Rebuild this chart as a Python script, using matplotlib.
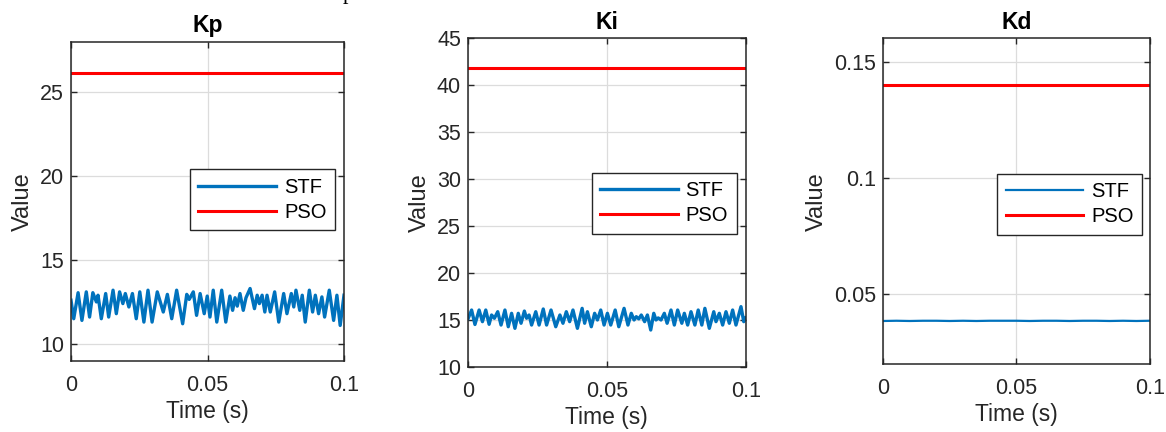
import matplotlib
matplotlib.use("Agg")
import matplotlib.pyplot as plt

plt.rcParams['font.family'] = ['Liberation Sans', 'DejaVu Sans']

# ---------------- data ----------------
titles = ["Kp", "Ki", "Kd"]
series_names = ["STF", "PSO"]
xticks = [0, 0.05, 0.1]
xtick_labels = ["0", "0.05", "0.1"]

kp_t = [0.0000, 0.0010, 0.0026, 0.0040, 0.0056, 0.0068, 0.0080, 0.0093, 0.0099, 0.0111,
        0.0127, 0.0138, 0.0154, 0.0166, 0.0178, 0.0190, 0.0199, 0.0212, 0.0225, 0.0239,
        0.0252, 0.0267, 0.0282, 0.0297, 0.0316, 0.0338, 0.0353, 0.0369, 0.0387, 0.0409,
        0.0424, 0.0433, 0.0448, 0.0460, 0.0473, 0.0488, 0.0499, 0.0509, 0.0521, 0.0534,
        0.0552, 0.0567, 0.0582, 0.0592, 0.0601, 0.0609, 0.0619, 0.0631, 0.0641, 0.0656,
        0.0672, 0.0682, 0.0690, 0.0700, 0.0710, 0.0718, 0.0730, 0.0746, 0.0761, 0.0779,
        0.0791, 0.0807, 0.0816, 0.0824, 0.0838, 0.0847, 0.0858, 0.0873, 0.0885, 0.0895,
        0.0907, 0.0919, 0.0929, 0.0946, 0.0962, 0.0974, 0.0986, 0.1000]
kp_stf = [12.6, 11.5, 13.05, 11.4, 13.1, 11.6, 13.05, 12.5, 12.9, 11.5,
          13.0, 11.6, 13.2, 11.8, 13.1, 12.4, 13.0, 12.2, 13.0, 11.5,
          13.1, 11.3, 13.2, 11.3, 13.1, 11.9, 12.95, 11.5, 13.2, 11.2,
          12.95, 12.65, 13.1, 11.7, 13.0, 11.8, 12.85, 11.6, 13.2, 11.3,
          13.2, 11.3, 12.85, 12.0, 12.75, 12.25, 13.0, 12.0, 12.75, 13.3,
          12.1, 12.9, 12.4, 12.9, 11.9, 12.9, 11.9, 13.1, 11.3, 13.0,
          11.8, 13.0, 12.2, 13.2, 12.0, 12.9, 11.3, 13.2, 11.9, 12.9,
          11.8, 12.8, 11.6, 13.2, 11.4, 12.9, 11.1, 12.9]

ki_t = [0.0000, 0.0013, 0.0025, 0.0040, 0.0052, 0.0064, 0.0076, 0.0085, 0.0095, 0.0107,
        0.0119, 0.0133, 0.0145, 0.0157, 0.0169, 0.0181, 0.0191, 0.0203, 0.0211, 0.0220,
        0.0229, 0.0244, 0.0256, 0.0271, 0.0283, 0.0299, 0.0316, 0.0331, 0.0342, 0.0354,
        0.0366, 0.0378, 0.0394, 0.0411, 0.0420, 0.0430, 0.0444, 0.0456, 0.0466, 0.0478,
        0.0490, 0.0502, 0.0514, 0.0530, 0.0543, 0.0562, 0.0576, 0.0588, 0.0598, 0.0606,
        0.0615, 0.0624, 0.0636, 0.0646, 0.0658, 0.0669, 0.0677, 0.0685, 0.0695, 0.0707,
        0.0717, 0.0731, 0.0743, 0.0755, 0.0770, 0.0779, 0.0791, 0.0803, 0.0817, 0.0829,
        0.0842, 0.0853, 0.0869, 0.0885, 0.0893, 0.0905, 0.0917, 0.0929, 0.0941, 0.0953,
        0.0965, 0.0983, 0.0993, 0.1000]
ki_stf = [15.1, 16.04, 14.5, 16.04, 14.8, 16.04, 14.52, 15.51, 15.16, 15.86,
          14.44, 16.04, 14.26, 15.69, 14.09, 15.69, 14.63, 15.93, 15.16, 15.51,
          14.44, 15.86, 14.44, 16.15, 14.44, 16.04, 14.26, 15.51, 14.63, 15.86,
          14.80, 16.04, 14.09, 16.22, 14.63, 15.86, 14.26, 15.69, 14.98, 16.04,
          14.44, 15.69, 14.44, 16.04, 14.26, 16.22, 14.44, 15.69, 14.98, 15.33,
          15.10, 15.51, 14.80, 15.51, 13.91, 15.69, 14.98, 15.20, 14.98, 15.69,
          14.63, 16.04, 14.44, 16.04, 14.63, 15.69, 14.44, 15.86, 14.44, 16.04,
          14.44, 16.22, 14.09, 15.86, 14.80, 15.69, 14.44, 15.86, 14.63, 16.04,
          14.44, 16.40, 14.80, 15.20]

kd_t = [0.000, 0.005, 0.010, 0.015, 0.020, 0.025, 0.030, 0.035, 0.040, 0.045, 0.050,
        0.055, 0.060, 0.065, 0.070, 0.075, 0.080, 0.085, 0.090, 0.095, 0.100]
kd_stf = [0.0386, 0.0387, 0.0386, 0.0387, 0.0387, 0.0386, 0.0387, 0.0386, 0.0387, 0.0387,
          0.0387, 0.0386, 0.0387, 0.0387, 0.0386, 0.0387, 0.0387, 0.0386, 0.0387, 0.0386, 0.0387]

pso_values = [26.13, 41.8, 0.140]
ylims = [(9, 28), (10, 45), (0.02, 0.16)]
yticks = [[10, 15, 20, 25], [10, 15, 20, 25, 30, 35, 40, 45], [0.05, 0.1, 0.15]]
ytick_labels = [["10", "15", "20", "25"],
                ["10", "15", "20", "25", "30", "35", "40", "45"],
                ["0.05", "0.1", "0.15"]]

stf_t = [kp_t, ki_t, kd_t]
stf_v = [kp_stf, ki_stf, kd_stf]
stf_lw = [2.4, 2.4, 1.6]

# ---------------- layout ----------------
W, H = 1166, 432
fig = plt.figure(figsize=(W / 100, H / 100), dpi=100)

axes_px = [(71, 41.7, 344, 360.7), (468, 38.3, 745.7, 366.7), (883, 38.3, 1149.7, 364.3)]
legend_anchor = [(0.436, 0.600), (0.445, 0.591), (0.4286, 0.585)]

blue = "#0072BD"
red = "#FF0000"
dark = "#262626"

for i in range(3):
    l, t, r, b = axes_px[i]
    ax = fig.add_axes([l / W, 1 - b / H, (r - l) / W, (b - t) / H])
    ax.plot(stf_t[i], stf_v[i], color=blue, lw=stf_lw[i], label=series_names[0],
            solid_joinstyle="round")
    ax.axhline(pso_values[i], color=red, lw=2.2, label=series_names[1])
    ax.set_xlim(0, 0.1)
    ax.set_ylim(*ylims[i])
    ax.set_xticks(xticks)
    ax.set_xticklabels(xtick_labels)
    ax.set_yticks(yticks[i])
    ax.set_yticklabels(ytick_labels[i])
    ax.grid(True, color="#dcdcdc", lw=0.9)
    ax.set_axisbelow(True)
    for s in ax.spines.values():
        s.set_color(dark)
        s.set_linewidth(1.1)
    ax.tick_params(direction="in", length=4, width=1.0, color=dark,
                   top=True, right=True, labelsize=15.5, labelcolor=dark)
    ax.tick_params(axis="x", pad=10)
    ax.tick_params(axis="y", pad=5)
    ax.set_xlabel("Time (s)", fontsize=16.5, color=dark, labelpad=3)
    ax.set_ylabel("Value", fontsize=17, color=dark, labelpad=4)
    ax.set_title(titles[i], fontsize=16.5, fontweight="bold", color="black", pad=7)
    leg = ax.legend(loc="upper left", bbox_to_anchor=legend_anchor[i],
                    borderaxespad=0, fontsize=14.5, handlelength=3.85,
                    handletextpad=0.4, labelspacing=0.3, borderpad=0.42,
                    fancybox=False, framealpha=1, edgecolor=dark)
    leg.get_frame().set_linewidth(1.0)

# cropped fragment of the surrounding page text at the top edge
fig.text(343 / W, 1 + 0.5 / H, "p", fontsize=16, family=["Liberation Serif", "DejaVu Serif"],
         va="baseline", ha="left", color="black")

fig.savefig("out.png", dpi=100)
